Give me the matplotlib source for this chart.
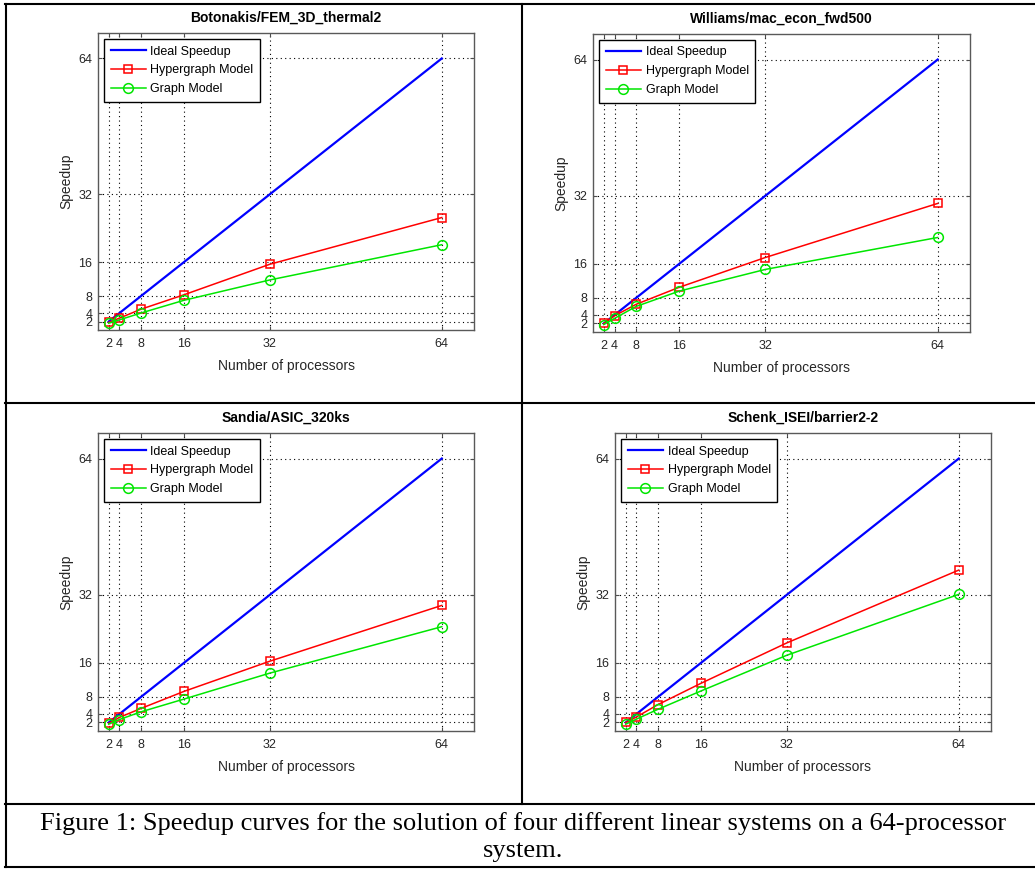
import matplotlib
matplotlib.use("Agg")
import matplotlib.pyplot as plt
from matplotlib.lines import Line2D

plt.rcParams["font.family"] = ["Liberation Sans", "DejaVu Sans"]

### DATA

procs = [2, 4, 8, 16, 32, 64]
ideal = [2, 4, 8, 16, 32, 64]
ticks = [2, 4, 8, 16, 32, 64]

titles = ["Botonakis/FEM_3D_thermal2", "Williams/mac_econ_fwd500",
          "Sandia/ASIC_320ks", "Schenk_ISEI/barrier2-2"]

hyper_thermal2 = [1.8, 2.8, 4.9, 8.3, 15.5, 26.5]
graph_thermal2 = [1.6, 2.4, 4.0, 7.0, 11.8, 20.1]
hyper_econ = [2.0, 3.8, 6.5, 10.5, 17.5, 30.2]
graph_econ = [1.75, 3.2, 6.0, 9.6, 14.7, 22.2]
hyper_asic = [1.8, 3.2, 5.3, 9.3, 16.4, 29.5]
graph_asic = [1.6, 2.7, 4.5, 7.5, 13.6, 24.5]
hyper_barrier = [2.0, 3.3, 6.2, 11.2, 20.7, 37.8]
graph_barrier = [1.6, 2.8, 5.1, 9.4, 17.8, 32.1]

hyper_all = [hyper_thermal2, hyper_econ, hyper_asic, hyper_barrier]
graph_all = [graph_thermal2, graph_econ, graph_asic, graph_barrier]

caption = ("Figure 1: Speedup curves for the solution of four different linear systems on a 64-processor\n"
           "system.")

### FIGURE

W, H = 1035, 869
fig = plt.figure(figsize=(W / 100, H / 100), dpi=100)

# axes boxes in pixels: left, top, right, bottom
boxes = [(98, 33, 474, 330), (593, 34, 970, 332),
         (98, 433, 474, 731), (615, 433, 991, 731)]

def px_rect(l, t, r, b):
    return [l / W, 1 - b / H, (r - l) / W, (b - t) / H]

for i in range(4):
    ax = fig.add_axes(px_rect(*boxes[i]))
    ax.plot(procs, ideal, color=(0, 0, 1), lw=1.6, label="Ideal Speedup")
    ax.plot(procs, hyper_all[i], color=(1, 0, 0), lw=1.1, marker="s", ms=6,
            mfc="none", mew=1.1, label="Hypergraph Model")
    ax.plot(procs, graph_all[i], color=(0, 0.9, 0), lw=1.1, marker="o", ms=7,
            mfc="none", mew=1.1, label="Graph Model")
    ax.set_xlim(0, 70)
    ax.set_ylim(0, 70)
    ax.set_xticks(ticks)
    ax.set_yticks(ticks)
    ax.tick_params(direction="in", top=True, right=True, labelsize=9, length=3,
                   color="0.3", labelcolor="0.15")
    ax.tick_params(axis="x", pad=6)
    ax.tick_params(axis="y", pad=4)
    ax.grid(True, linestyle=(0, (1, 3)), color="black", lw=0.8)
    for s in ax.spines.values():
        s.set_color("0.35")
        s.set_linewidth(1.0)
    ax.set_title(titles[i], fontsize=10, fontweight="bold", pad=8)
    ax.set_xlabel("Number of processors", fontsize=10, labelpad=6, color="0.15")
    ax.set_ylabel("Speedup", fontsize=10, labelpad=4, color="0.15")
    leg = ax.legend(loc="upper left", fontsize=9, fancybox=False, framealpha=1,
                    edgecolor="black", borderaxespad=0.5, handlelength=2.8,
                    labelspacing=0.55, borderpad=0.5, handletextpad=0.4)
    leg.get_frame().set_linewidth(1.0)

# table borders
def hline(y, x0, x1):
    fig.add_artist(Line2D([x0 / W, x1 / W], [1 - y / H, 1 - y / H],
                          color="black", lw=1.5))

def vline(x, y0, y1):
    fig.add_artist(Line2D([x / W, x / W], [1 - y0 / H, 1 - y1 / H],
                          color="black", lw=1.5))

hline(4, 5, 1035)
hline(403, 5, 1035)
hline(804, 5, 1035)
hline(867, 5, 1035)
vline(6, 4, 867)
vline(522, 4, 804)

fig.text(523 / W, 1 - 837 / H, caption, ha="center", va="center",
         fontsize=19, family=["Liberation Serif", "DejaVu Serif"],
         linespacing=1.3)

fig.savefig("out.png", dpi=100)
